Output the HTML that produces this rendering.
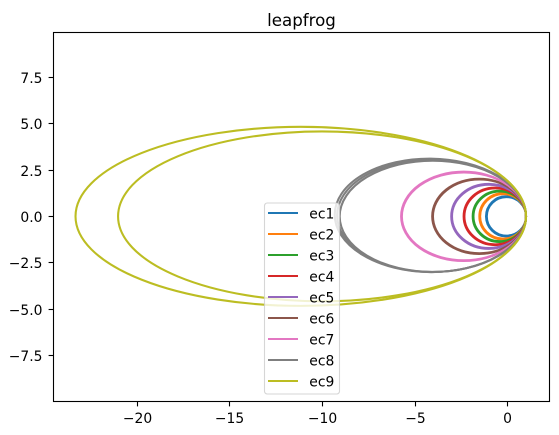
<!DOCTYPE html>
<html>
<head>
<meta charset="utf-8">
<title>leapfrog</title>
<style>
html,body{margin:0;padding:0;background:#fff;}
svg{display:block;}
text{font-family:"DejaVu Sans","Liberation Sans",sans-serif;fill:#000;}
</style>
</head>
<body>
<svg id="chart" width="559" height="435" viewBox="0 0 559 435" xmlns="http://www.w3.org/2000/svg">
  <rect x="0" y="0" width="559" height="435" fill="#fff"/>
  <text x="301.5" y="26" font-size="16.67" text-anchor="middle">leapfrog</text>
  <g id="series"></g>
  <rect x="53.5" y="32.5" width="496" height="369" fill="none" stroke="#000" stroke-width="1.1"/>
  <g id="xticks"></g>
  <g id="yticks"></g>
  <g id="legend"></g>
</svg>
<script>
var seriesNames = ['ec1','ec2','ec3','ec4','ec5','ec6','ec7','ec8','ec9'];
var seriesColors = ['#1f77b4','#ff7f0e','#2ca02c','#d62728','#9467bd','#8c564b','#e377c2','#7f7f7f','#bcbd22'];
/* Leftmost x reached on each loop of each series */
var orbitLeft = [[-1.12,-1.16],[-1.48,-1.52],[-1.84,-1.88],[-2.33,-2.37],[-3.0,-3.04],[-4.03,-4.07],[-5.71,-5.75],[-9.07,-9.21,-9.34],[-21.05,-23.35]];
/* Rightmost x reached on each loop */
var orbitRight = [[1,1],[1,1],[1,1],[1,1],[1,1],[1,1],[1,1],[1,1,1],[1,1]];
/* Half height of each loop */
var orbitHalfHeight = [[1.04,1.08],[1.20,1.24],[1.34,1.38],[1.51,1.55],[1.71,1.75],[1.99,2.03],[2.37,2.41],[3.0,3.03,3.06],[4.58,4.83]];
/* Slow drift of each loop, in degrees */
var orbitDrift = [[0,0],[0,0],[0,0],[0,0],[0,0],[0,0],[0,0],[0,0.3,0.6],[0,0]];
var xTickValues = [-20,-15,-10,-5,0];
var xTickLabels = ['\u221220','\u221215','\u221210','\u22125','0'];
var yTickValues = [-7.5,-5,-2.5,0,2.5,5,7.5];
var yTickLabels = ['\u22127.5','\u22125.0','\u22122.5','0.0','2.5','5.0','7.5'];
var xLimits = [-24.54,2.27];
var yLimits = [-9.99,9.92];

var NS = 'http://www.w3.org/2000/svg';
function xScale(v){ return 53.5 + (v - xLimits[0]) / (xLimits[1] - xLimits[0]) * 496; }
function yScale(v){ return 32.5 + (yLimits[1] - v) / (yLimits[1] - yLimits[0]) * 369; }
function make(tag, parent, attrs){
  var el = document.createElementNS(NS, tag);
  for (var k in attrs) el.setAttribute(k, attrs[k]);
  parent.appendChild(el);
  return el;
}

var seriesGroup = document.getElementById('series');
seriesNames.forEach(function(name, i){
  var g = make('g', seriesGroup, {});
  
  
  orbitLeft[i].forEach(function(left, j){
    var xL = xScale(left);
    var xR = xScale(orbitRight[i][j]);
    var yMid = yScale(0);
    var rx = (xR - xL) / 2;
    var ry = Math.abs(yScale(orbitHalfHeight[i][j]) - yMid);
    var d = 'M' + xL + ' ' + yMid + ' A' + rx + ' ' + ry + ' 0 1 1 ' + xR + ' ' + yMid + ' A' + rx + ' ' + ry + ' 0 1 1 ' + xL + ' ' + yMid;
    var p = make('path', g, {d:d, fill:'none', stroke:seriesColors[i], 'stroke-width':2.08, transform:'rotate(' + orbitDrift[i][j] + ' ' + xR + ' ' + yMid + ')'});
    
    
  });
});

var xGroup = document.getElementById('xticks');
xTickValues.forEach(function(v, i){
  var x = Math.floor(xScale(v)) + 0.5;
  var t = make('line', xGroup, {x1:x, x2:x, y1:401.5, y2:406.4, stroke:'#000', 'stroke-width':1.1});
  
  
  var l = make('text', xGroup, {x:x, y:423, 'font-size':13.89, 'text-anchor':'middle'});
  l.textContent = xTickLabels[i];
  
  
});

var yGroup = document.getElementById('yticks');
yTickValues.forEach(function(v, i){
  var y = Math.floor(yScale(v)) + 0.5;
  var t = make('line', yGroup, {x1:48.6, x2:53.5, y1:y, y2:y, stroke:'#000', 'stroke-width':1.1});
  
  
  var l = make('text', yGroup, {x:42.5, y:y + 5.5, 'font-size':13.89, 'text-anchor':'end'});
  l.textContent = yTickLabels[i];
  
  
});

var legend = document.getElementById('legend');
var box = make('rect', legend, {x:264.5, y:203, width:75, height:191, rx:2.8, ry:2.8, fill:'#fff', 'fill-opacity':0.8, stroke:'#ccc', 'stroke-opacity':0.8, 'stroke-width':1.1});


seriesNames.forEach(function(name, i){
  var y = 213 + i * 21;
  var g = make('g', legend, {});
  
  
  var s = make('line', g, {x1:268, x2:298, y1:y, y2:y, stroke:seriesColors[i], 'stroke-width':2.08});
  
  
  var t = make('text', g, {x:309.3, y:y + 5.5, 'font-size':13.89});
  t.textContent = name;
  
  
});
</script>
</body>
</html>
